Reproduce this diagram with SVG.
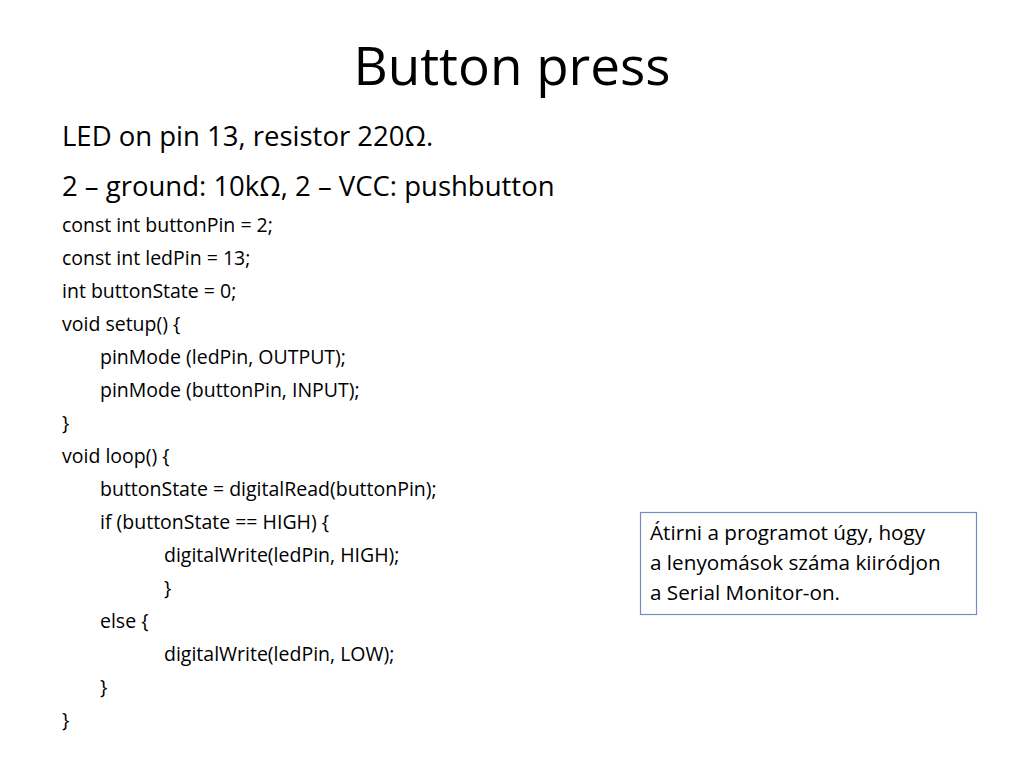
<svg xmlns="http://www.w3.org/2000/svg" width="1024" height="768" viewBox="0 0 1024 768">
<style>
text{font-family:"Open Sans","Liberation Sans",sans-serif;fill:#000}
.c{font-size:19.5px}
.b{font-size:27.5px}
.n{font-size:20.7px}
</style>
<rect width="1024" height="768" fill="#fff"/>
<g id="title"><text x="512" y="85" text-anchor="middle" font-size="53">Button press</text></g>
<g id="body">
<text class="b" x="62" y="146">LED on pin 13, resistor 220Ω.</text>
<text class="b" x="62" y="196">2 – ground: 10kΩ, 2 – VCC: pushbutton</text>
<text class="c" x="62" y="232">const int buttonPin = 2;</text>
<text class="c" x="62" y="265">const int ledPin = 13;</text>
<text class="c" x="62" y="298">int buttonState = 0;</text>
<text class="c" x="62" y="331">void setup() {</text>
<text class="c" x="100" y="364">pinMode (ledPin, OUTPUT);</text>
<text class="c" x="100" y="397">pinMode (buttonPin, INPUT);</text>
<text class="c" x="62" y="430">}</text>
<text class="c" x="62" y="463">void loop() {</text>
<text class="c" x="100" y="496">buttonState = digitalRead(buttonPin);</text>
<text class="c" x="100" y="529">if (buttonState == HIGH) {</text>
<text class="c" x="164" y="562">digitalWrite(ledPin, HIGH);</text>
<text class="c" x="164" y="595">}</text>
<text class="c" x="100" y="628">else {</text>
<text class="c" x="164" y="661">digitalWrite(ledPin, LOW);</text>
<text class="c" x="100" y="694">}</text>
<text class="c" x="62" y="727">}</text>
</g>
<g id="note">
<rect x="640.5" y="512.5" width="336" height="102" fill="#fff" stroke="#6f8fbf" stroke-width="1.2"/>
<text class="n" x="650" y="540">Átirni a programot úgy, hogy</text>
<text class="n" x="650" y="570">a lenyomások száma kiiródjon</text>
<text class="n" x="650" y="600">a Serial Monitor-on.</text>
</g>
</svg>
